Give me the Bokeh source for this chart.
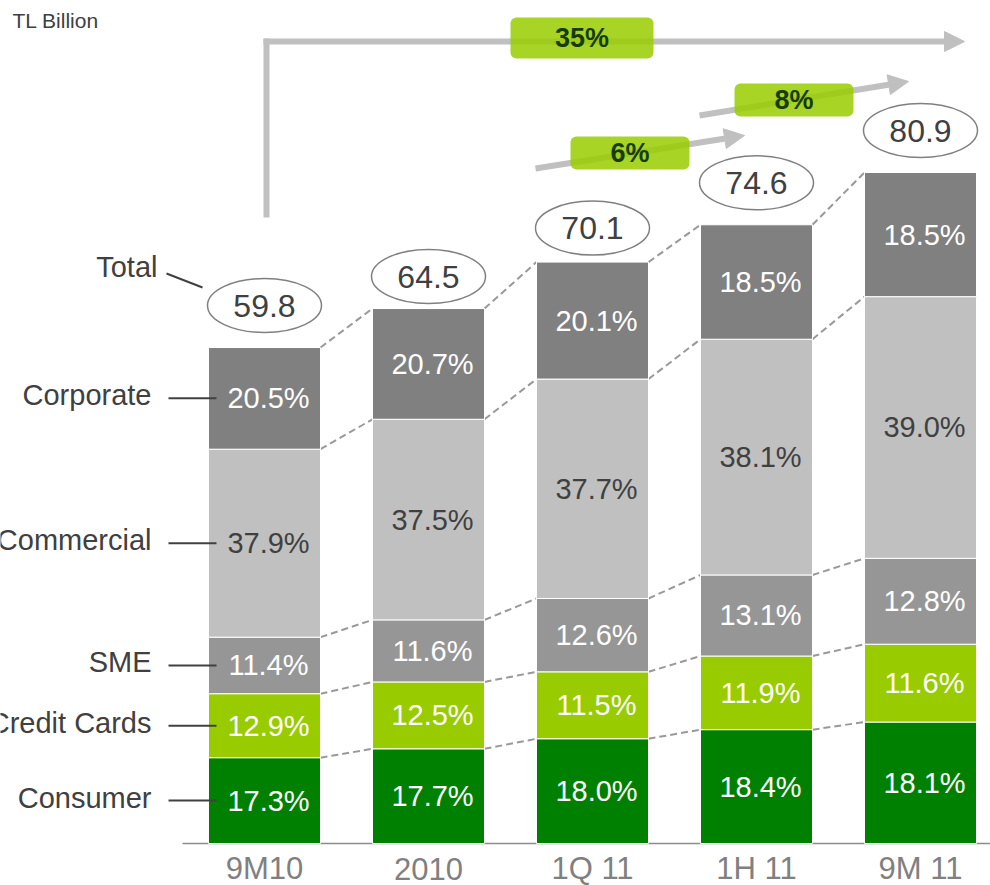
from bokeh.plotting import figure
from bokeh.models import Range1d, Arrow, NormalHead
from bokeh.core.properties import value
from bokeh.embed import file_html
from bokeh.resources import INLINE

# ---------------- data ----------------
periods = ["9M10", "2010", "1Q 11", "1H 11", "9M 11"]
totals = [59.8, 64.5, 70.1, 74.6, 80.9]
segment_names = ["Consumer", "Credit Cards", "SME", "Commercial", "Corporate"]
consumer = [17.3, 17.7, 18.0, 18.4, 18.1]
credit_cards = [12.9, 12.5, 11.5, 11.9, 11.6]
sme = [11.4, 11.6, 12.6, 13.1, 12.8]
commercial = [37.9, 37.5, 37.7, 38.1, 39.0]
corporate = [20.5, 20.7, 20.1, 18.5, 18.5]
growth_labels = ["35%", "6%", "8%"]
unit_label = "TL Billion"
total_label = "Total"

# ---------------- layout / style ----------------
W, H = 990, 885
PX0, STEP = 264, 164          # pixel of first bar centre, pixels per category
BASE, SCALE = 843, 8.294      # pixel of zero line, pixels per TL billion
BAR_W = 0.683
FONT = value("Liberation Sans")
colors = ["#008000", "#99CC00", "#969696", "#C0C0C0", "#808080"]
text_colors = ["white", "white", "white", "#404040", "white"]
ellipse_off = [42, 32, 34, 42, 42]


def X(px):
    return (px - PX0) / STEP


def Y(py):
    return (BASE - py) / SCALE


p = figure(width=W, height=H, output_backend="svg", toolbar_location=None,
           x_range=Range1d(-PX0 / STEP, (W - PX0) / STEP),
           y_range=Range1d(-(H - BASE) / SCALE, BASE / SCALE),
           x_axis_type=None, y_axis_type=None, min_border=0,
           outline_line_color=None)
p.background_fill_color = "white"
p.border_fill_color = "white"

idx = list(range(len(periods)))
shares = [consumer, credit_cards, sme, commercial, corporate]

# compute stacked bottoms/tops
bottoms, tops = [], []
cum = [0.0] * len(periods)
for s in shares:
    b = list(cum)
    t = []
    for i in idx:
        tot_pct = sum(sh[i] for sh in shares)
        cum[i] = cum[i] + s[i] / tot_pct * totals[i]
        t.append(cum[i])
    bottoms.append(b)
    tops.append(t)

# dashed connectors between bars
x0s, y0s, x1s, y1s = [], [], [], []
for t in tops:
    for i in idx[:-1]:
        x0s.append(i + BAR_W / 2)
        y0s.append(t[i])
        x1s.append(i + 1 - BAR_W / 2)
        y1s.append(t[i + 1])
p.segment(x0=x0s, y0=y0s, x1=x1s, y1=y1s, line_color="#999999",
          line_width=2, line_dash="7 4")

# baseline
p.line(x=[X(182), X(1000)], y=[0, 0], line_color="#8c8c8c", line_width=1.5)

# bars and labels
for k, s in enumerate(shares):
    p.vbar(x=idx, width=BAR_W, bottom=bottoms[k], top=tops[k],
           fill_color=colors[k], line_color="white", line_width=1)
    mids = [(bottoms[k][i] + tops[k][i]) / 2 for i in idx]
    p.text(x=idx, y=mids, text=[f"{v:.1f}%" for v in s], text_font=FONT,
           text_font_size="29px", text_align="center", text_baseline="middle",
           text_color=text_colors[k], x_offset=4)

# category labels
p.text(x=idx, y=[Y(868)] * len(idx), text=periods, text_font=FONT,
       text_font_size="31px", text_align="center", text_baseline="middle",
       text_color="#808080")

# total ellipses
ey = [totals[i] + ellipse_off[i] / SCALE for i in idx]
p.ellipse(x=idx, y=ey, width=114, height=54, width_units="screen",
          height_units="screen", fill_color="white", line_color="#808080",
          line_width=1.5)
p.text(x=idx, y=ey, text=[f"{t:.1f}" for t in totals], text_font=FONT,
       text_font_size="32px", text_align="center", text_baseline="middle",
       text_color="#404040")

# left segment labels with leader lines
label_y = [(bottoms[k][0] + tops[k][0]) / 2 for k in range(len(shares))]
p.text(x=[X(151)] * len(segment_names), y=label_y, text=segment_names,
       text_font=FONT, text_font_size="29px", text_align="right",
       text_baseline="middle", text_color="#404040", y_offset=-3)
p.segment(x0=[X(168)] * len(label_y), y0=label_y,
          x1=[X(216)] * len(label_y), y1=label_y,
          line_color="#404040", line_width=2)
p.text(x=[X(157)], y=[Y(266)], text=[total_label], text_font=FONT,
       text_font_size="29px", text_align="right", text_baseline="middle",
       text_color="#404040")
p.line(x=[X(166), X(202)], y=[Y(273), Y(287)], line_color="#404040",
       line_width=2)

# unit label
p.text(x=[X(12)], y=[Y(20)], text=[unit_label], text_font=FONT,
       text_font_size="21px", text_align="left", text_baseline="middle",
       text_color="#404040")

# growth arrows
GRAY = "#C0C0C0"
p.line(x=[X(266), X(266)], y=[Y(217), Y(38)], line_color=GRAY, line_width=6)
arrows = [((263, 41), (964, 41)), ((535, 168), (744, 135)),
          ((699, 115), (908, 81))]
for (xs, ys), (xe, ye) in arrows:
    p.add_layout(Arrow(x_start=X(xs), y_start=Y(ys), x_end=X(xe), y_end=Y(ye),
                       line_color=GRAY, line_width=6, level="underlay",
                       end=NormalHead(size=20, fill_color=GRAY,
                                      line_color=GRAY, line_width=1)))

boxes = [(510, 653, 17, 58), (570, 689, 136, 169), (734, 853, 83, 116)]
p.quad(left=[X(b[0]) for b in boxes], right=[X(b[1]) for b in boxes],
       top=[Y(b[2]) for b in boxes], bottom=[Y(b[3]) for b in boxes],
       fill_color="#99CC00", fill_alpha=0.85, line_color=None,
       border_radius=6)
p.text(x=[X((b[0] + b[1]) / 2) for b in boxes],
       y=[Y((b[2] + b[3]) / 2) for b in boxes], text=growth_labels,
       text_font=FONT, text_font_size="27px", text_font_style="bold",
       text_align="center", text_baseline="middle", text_color="#163D00")

open("out.html", "w").write(file_html(p, INLINE))
